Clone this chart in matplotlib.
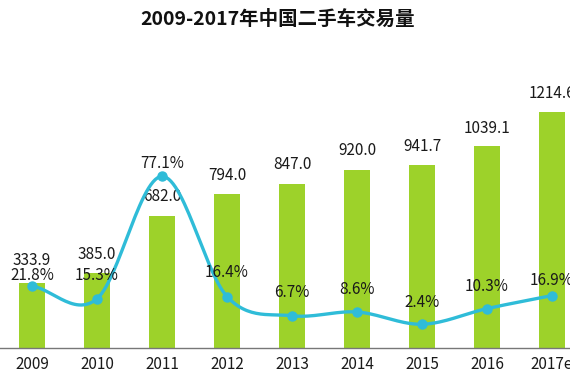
import numpy as np
import matplotlib
matplotlib.use("Agg")
import matplotlib.pyplot as plt

plt.rcParams['font.family'] = ['Noto Sans CJK SC', 'DejaVu Sans']

# Data:
years = ["2009", "2010", "2011", "2012", "2013", "2014", "2015", "2016", "2017e"]
volume = [333.9, 385.0, 682.0, 794.0, 847.0, 920.0, 941.7, 1039.1, 1214.6]
growth = [21.8, 15.3, 77.1, 16.4, 6.7, 8.6, 2.4, 10.3, 16.9]

# Colors:
bar_color = "#9dd22a"
line_color = "#2fbcd8"
text_color = "#1a1a1a"

# label offsets (px above bar top / point)
bar_off = [23, 19, 19, 18, 19, 19, 19, 18, 19]
pct_off = [10, 23, 13, 24, 23, 22, 22, 22, 15]


def smooth(xs, ys, n=30):
    # Catmull-Rom style smoothing, like a spreadsheet "smoothed line"
    xs = np.asarray(xs, float)
    ys = np.asarray(ys, float)
    px = np.concatenate([[2 * xs[0] - xs[1]], xs, [2 * xs[-1] - xs[-2]]])
    py = np.concatenate([[2 * ys[0] - ys[1]], ys, [2 * ys[-1] - ys[-2]]])
    out_x, out_y = [], []
    for i in range(1, len(px) - 2):
        t = np.linspace(0, 1, n)
        for arr, p in ((out_x, px), (out_y, py)):
            p0, p1, p2, p3 = p[i - 1], p[i], p[i + 1], p[i + 2]
            arr.extend(0.5 * ((2 * p1) + (-p0 + p2) * t + (2 * p0 - 5 * p1 + 4 * p2 - p3) * t ** 2
                              + (-p0 + 3 * p1 - 3 * p2 + p3) * t ** 3))
    return np.array(out_x), np.array(out_y)


fig = plt.figure(figsize=(5.7, 3.8), dpi=100)
fig.patch.set_facecolor("white")

pos = [0, 32 / 380, 1, 288 / 380]
ax = fig.add_axes(pos)
x = np.arange(len(years))
ax.bar(x, volume, width=0.4, color=bar_color, zorder=1)
ax.set_xlim(-32 / 65, (570 - 32) / 65)
ax.set_ylim(0, 288 / 0.194)
ax.set_xticks(x)
ax.set_xticklabels(years, fontsize=11, color=text_color)
ax.tick_params(axis="x", length=0, pad=6)
ax.set_yticks([])
for s in ["top", "right", "left"]:
    ax.spines[s].set_visible(False)
ax.spines["bottom"].set_color("#777777")
ax.spines["bottom"].set_linewidth(1)

for xi, v, off in zip(x, volume, bar_off):
    ax.annotate(f"{v:.1f}", (xi, v), xytext=(0, off * 0.72), textcoords="offset points",
                ha="center", va="center", fontsize=11, color=text_color, zorder=5)

ax2 = fig.add_axes(pos, sharex=ax)
ax2.patch.set_visible(False)
ax2.set_ylim(-19 / 1.98, -19 / 1.98 + 288 / 1.98)
ax2.axis("off")
sx, sy = smooth(x, growth)
ax2.plot(sx, sy, color=line_color, lw=2.4, zorder=3, solid_capstyle="round")
ax2.plot(x, growth, "o", color=line_color, markersize=6.5, zorder=4)
for xi, g, off in zip(x, growth, pct_off):
    ax2.annotate(f"{g:.1f}%", (xi, g), xytext=(0, off * 0.72), textcoords="offset points",
                 ha="center", va="center", fontsize=11, color=text_color, zorder=5)

fig.text(278 / 570, 1 - 19 / 380, "2009-2017年中国二手车交易量", ha="center", va="center",
         fontsize=14, fontweight="bold", color="#111111")

fig.savefig("out.png", dpi=100)
